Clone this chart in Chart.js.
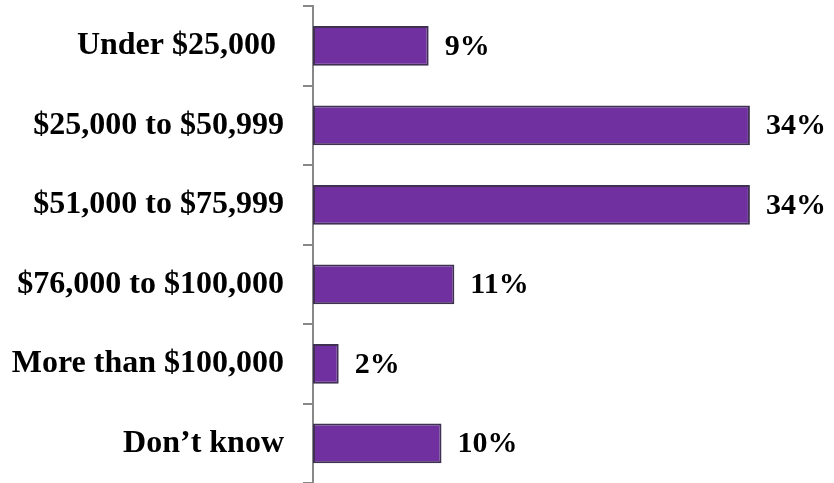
<!DOCTYPE html>
<html>
<head>
<meta charset="utf-8">
<script src="https://cdn.jsdelivr.net/npm/chart.js@4.4.1/dist/chart.umd.min.js"></script>
<style>
  body { margin: 0; background: #fff; }
  canvas { display: block; }
</style>
</head>
<body>
<canvas id="incomeChart" width="834" height="483"></canvas>
<script>
// Income brackets and share of respondents (%)
const categories = [
    'Under $25,000 ',
    '$25,000 to $50,999',
    '$51,000 to $75,999',
    '$76,000 to $100,000',
    'More than $100,000',
    'Don\u2019t know'
];
const percentages = [9, 34, 34, 11, 2, 10];

const serif = '"Liberation Serif", "Times New Roman", serif';

// Draw the value labels at the end of each bar
const valueLabels = {
    id: 'valueLabels',
    afterDatasetsDraw(chart) {
        const ctx = chart.ctx;
        const meta = chart.getDatasetMeta(0);
        ctx.save();
        ctx.font = 'bold 30px ' + serif;
        ctx.fillStyle = '#000';
        ctx.textAlign = 'left';
        ctx.textBaseline = 'middle';
        meta.data.forEach((bar, i) => {
            ctx.fillText(percentages[i] + '%', bar.x + 16, bar.y + 1);
        });
        ctx.restore();
    }
};

const ctx = document.getElementById('incomeChart').getContext('2d');
new Chart(ctx, {
    type: 'bar',
    data: {
        labels: categories,
        datasets: [{
            data: percentages,
            backgroundColor: '#7030A0',
            borderColor: '#3F3151',
            borderWidth: 2,
            borderSkipped: false,
            barPercentage: 0.5,
            categoryPercentage: 1
        }]
    },
    options: {
        indexAxis: 'y',
        responsive: false,
        animation: false,
        layout: {
            padding: { top: 6, right: 7, bottom: -1, left: 0 }
        },
        plugins: {
            legend: { display: false },
            tooltip: { enabled: false }
        },
        scales: {
            x: {
                display: false,
                min: 0,
                max: 40
            },
            y: {
                afterFit(scale) {
                    // fixed axis position, no extra label padding top/bottom
                    scale.width = 313;
                    scale.paddingTop = 0;
                    scale.paddingBottom = 0;
                },
                border: { color: '#888', width: 2 },
                grid: {
                    drawOnChartArea: false,
                    drawTicks: true,
                    tickLength: 10,
                    color: '#888',
                    lineWidth: 2,
                    offset: true
                },
                ticks: {
                    color: '#000',
                    padding: 19,
                    font: { family: serif, size: 32, weight: 'bold' }
                }
            }
        }
    },
    plugins: [valueLabels]
});
</script>
</body>
</html>
